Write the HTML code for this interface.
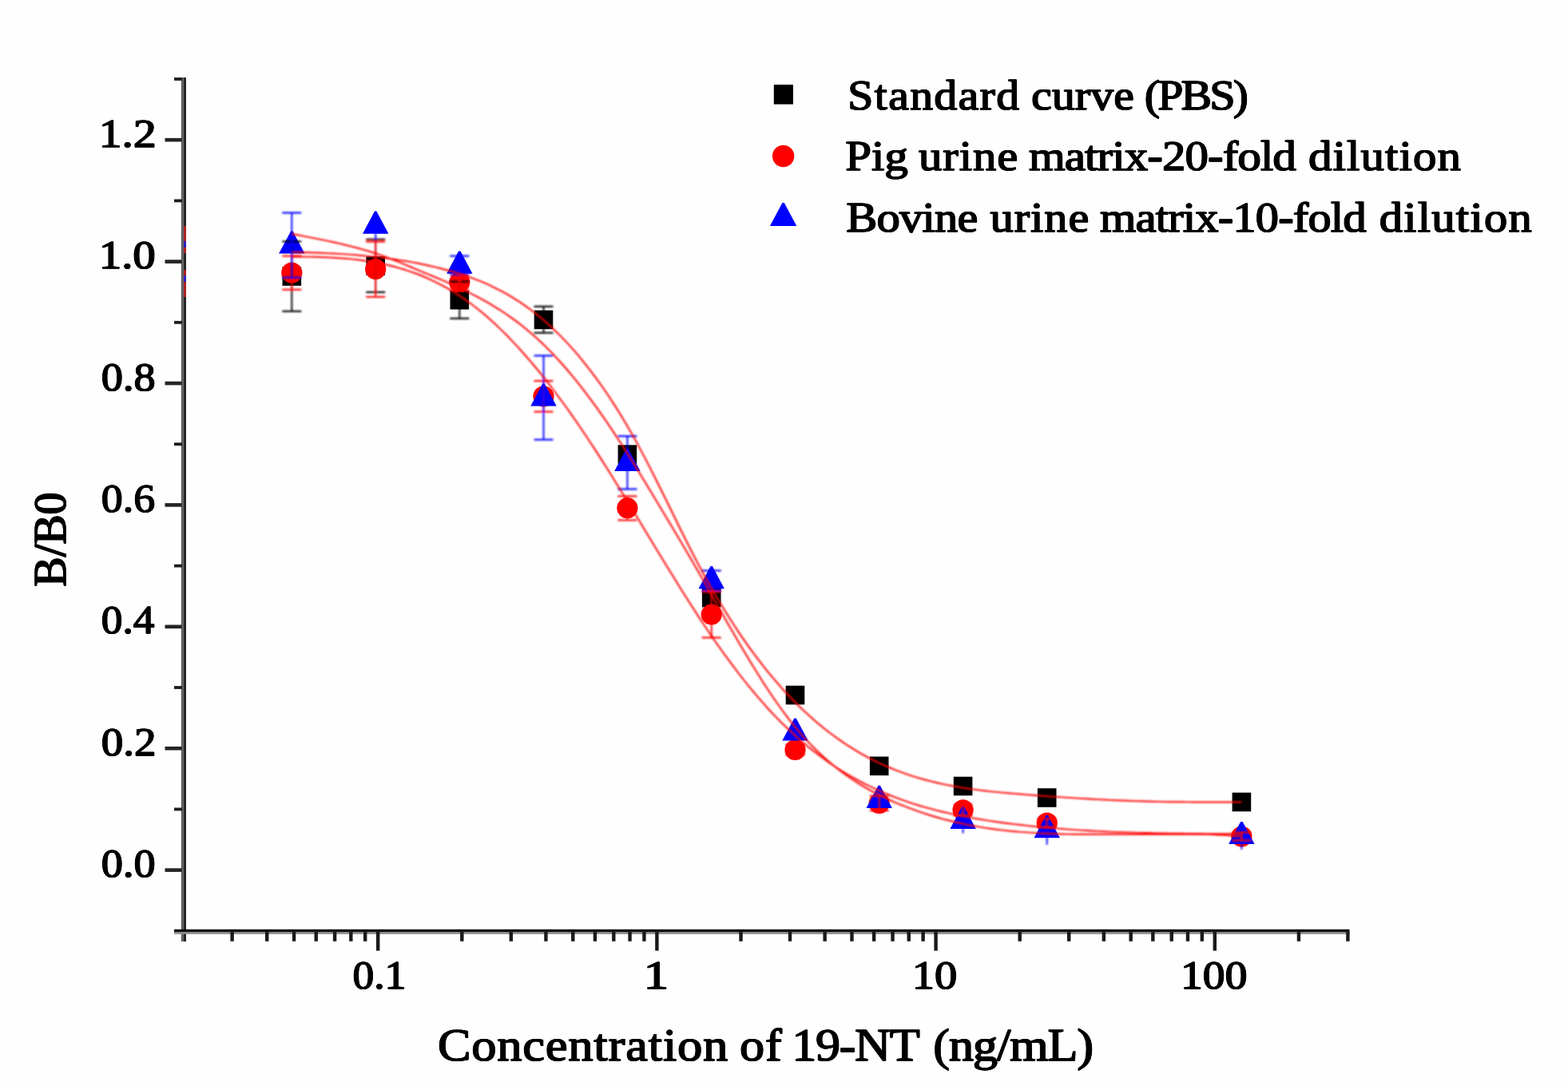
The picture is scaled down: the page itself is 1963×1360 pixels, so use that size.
<!DOCTYPE html>
<html><head><meta charset="utf-8"><title>Standard curve</title>
<style>
html,body{margin:0;padding:0;background:#fefefe;}
svg{display:block;filter:blur(0.45px)}
text{font-family:"Liberation Serif",serif;font-weight:normal;fill:#000;stroke:#000;stroke-width:1;stroke-linejoin:round;}
</style></head>
<body>
<svg width="1963" height="1360" viewBox="0 0 1963 1360">
<defs><filter id="soft" x="-5%" y="-5%" width="110%" height="110%" filterUnits="objectBoundingBox"><feGaussianBlur stdDeviation="1.0"/></filter></defs>
<rect x="0" y="0" width="1963" height="1360" fill="#fefefe"/>
<g id="axes">
<rect x="226.8" y="97" width="3" height="1082" fill="#5e5e5e"/>
<rect x="229.8" y="97" width="3.2" height="1082" fill="#262626"/>
<rect x="218" y="1163.8" width="1471.4" height="3.2" fill="#0a0a0a"/>
<rect x="218" y="1167" width="1471.4" height="2.8" fill="#8c8c8c"/>
<rect x="206.5" y="1087.30" width="21" height="4.6" fill="#242424"/>
<rect x="218" y="1011.50" width="10" height="3.8" fill="#1c1c1c"/>
<rect x="206.5" y="934.90" width="21" height="4.6" fill="#242424"/>
<rect x="218" y="859.10" width="10" height="3.8" fill="#1c1c1c"/>
<rect x="206.5" y="782.50" width="21" height="4.6" fill="#242424"/>
<rect x="218" y="706.70" width="10" height="3.8" fill="#1c1c1c"/>
<rect x="206.5" y="630.10" width="21" height="4.6" fill="#242424"/>
<rect x="218" y="554.30" width="10" height="3.8" fill="#1c1c1c"/>
<rect x="206.5" y="477.70" width="21" height="4.6" fill="#242424"/>
<rect x="218" y="401.90" width="10" height="3.8" fill="#1c1c1c"/>
<rect x="206.5" y="325.30" width="21" height="4.6" fill="#242424"/>
<rect x="218" y="249.50" width="10" height="3.8" fill="#1c1c1c"/>
<rect x="206.5" y="172.90" width="21" height="4.6" fill="#242424"/>
<rect x="218" y="97.10" width="10" height="3.8" fill="#1c1c1c"/>
<rect x="288.41" y="1166" width="4.4" height="12.8" fill="#1a1a1a"/>
<rect x="332.04" y="1166" width="4.4" height="12.8" fill="#1a1a1a"/>
<rect x="365.88" y="1166" width="4.4" height="12.8" fill="#1a1a1a"/>
<rect x="393.53" y="1166" width="4.4" height="12.8" fill="#1a1a1a"/>
<rect x="416.91" y="1166" width="4.4" height="12.8" fill="#1a1a1a"/>
<rect x="437.16" y="1166" width="4.4" height="12.8" fill="#1a1a1a"/>
<rect x="455.02" y="1166" width="4.4" height="12.8" fill="#1a1a1a"/>
<rect x="471.00" y="1166" width="4.4" height="24.6" fill="#1a1a1a"/>
<rect x="576.12" y="1166" width="4.4" height="12.8" fill="#1a1a1a"/>
<rect x="637.61" y="1166" width="4.4" height="12.8" fill="#1a1a1a"/>
<rect x="681.24" y="1166" width="4.4" height="12.8" fill="#1a1a1a"/>
<rect x="715.08" y="1166" width="4.4" height="12.8" fill="#1a1a1a"/>
<rect x="742.73" y="1166" width="4.4" height="12.8" fill="#1a1a1a"/>
<rect x="766.11" y="1166" width="4.4" height="12.8" fill="#1a1a1a"/>
<rect x="786.36" y="1166" width="4.4" height="12.8" fill="#1a1a1a"/>
<rect x="804.22" y="1166" width="4.4" height="12.8" fill="#1a1a1a"/>
<rect x="820.20" y="1166" width="4.4" height="24.6" fill="#1a1a1a"/>
<rect x="925.32" y="1166" width="4.4" height="12.8" fill="#1a1a1a"/>
<rect x="986.81" y="1166" width="4.4" height="12.8" fill="#1a1a1a"/>
<rect x="1030.44" y="1166" width="4.4" height="12.8" fill="#1a1a1a"/>
<rect x="1064.28" y="1166" width="4.4" height="12.8" fill="#1a1a1a"/>
<rect x="1091.93" y="1166" width="4.4" height="12.8" fill="#1a1a1a"/>
<rect x="1115.31" y="1166" width="4.4" height="12.8" fill="#1a1a1a"/>
<rect x="1135.56" y="1166" width="4.4" height="12.8" fill="#1a1a1a"/>
<rect x="1153.42" y="1166" width="4.4" height="12.8" fill="#1a1a1a"/>
<rect x="1169.40" y="1166" width="4.4" height="24.6" fill="#1a1a1a"/>
<rect x="1274.52" y="1166" width="4.4" height="12.8" fill="#1a1a1a"/>
<rect x="1336.01" y="1166" width="4.4" height="12.8" fill="#1a1a1a"/>
<rect x="1379.64" y="1166" width="4.4" height="12.8" fill="#1a1a1a"/>
<rect x="1413.48" y="1166" width="4.4" height="12.8" fill="#1a1a1a"/>
<rect x="1441.13" y="1166" width="4.4" height="12.8" fill="#1a1a1a"/>
<rect x="1464.51" y="1166" width="4.4" height="12.8" fill="#1a1a1a"/>
<rect x="1484.76" y="1166" width="4.4" height="12.8" fill="#1a1a1a"/>
<rect x="1502.62" y="1166" width="4.4" height="12.8" fill="#1a1a1a"/>
<rect x="1518.60" y="1166" width="4.4" height="24.6" fill="#1a1a1a"/>
<rect x="1623.72" y="1166" width="4.4" height="12.8" fill="#1a1a1a"/>
<rect x="1685.21" y="1166" width="4.4" height="12.8" fill="#1a1a1a"/>
</g>
<g id="ticklabels">
</g>
<g id="titles">
</g>
<g id="legend">
<rect x="968.8" y="106.0" width="24.1" height="24.6" fill="#000"/>
<circle cx="980.60" cy="195.50" r="13.7" fill="#f00"/>
<polygon points="979.40,253.90 981.80,253.90 997.30,282.90 963.90,282.90" fill="#00f"/>
</g>
<g id="markers">
<rect x="353.50" y="334.20" width="23.6" height="23.6" fill="#000"/>
<rect x="458.40" y="321.20" width="23.6" height="23.6" fill="#000"/>
<rect x="563.50" y="363.90" width="23.6" height="23.6" fill="#000"/>
<rect x="668.70" y="388.60" width="23.6" height="23.6" fill="#000"/>
<rect x="773.60" y="557.30" width="23.6" height="23.6" fill="#000"/>
<rect x="878.90" y="736.80" width="23.6" height="23.6" fill="#000"/>
<rect x="983.70" y="858.70" width="23.6" height="23.6" fill="#000"/>
<rect x="1088.90" y="947.50" width="23.6" height="23.6" fill="#000"/>
<rect x="1193.80" y="972.70" width="23.6" height="23.6" fill="#000"/>
<rect x="1298.90" y="987.20" width="23.6" height="23.6" fill="#000"/>
<rect x="1542.60" y="992.60" width="23.6" height="23.6" fill="#000"/>
<circle cx="365.30" cy="341.60" r="13.1" fill="#f00"/>
<circle cx="470.20" cy="337.00" r="13.1" fill="#f00"/>
<circle cx="575.30" cy="353.50" r="13.1" fill="#f00"/>
<circle cx="680.50" cy="496.30" r="13.1" fill="#f00"/>
<circle cx="785.40" cy="636.20" r="13.1" fill="#f00"/>
<circle cx="890.70" cy="769.50" r="13.1" fill="#f00"/>
<circle cx="995.50" cy="939.00" r="13.1" fill="#f00"/>
<circle cx="1100.70" cy="1005.90" r="13.1" fill="#f00"/>
<circle cx="1205.60" cy="1014.30" r="13.1" fill="#f00"/>
<circle cx="1310.70" cy="1030.60" r="13.1" fill="#f00"/>
<circle cx="1554.40" cy="1047.60" r="13.1" fill="#f00"/>
<polygon points="364.10,289.40 366.50,289.40 381.50,317.60 349.10,317.60" fill="#00f"/>
<polygon points="469.00,264.60 471.40,264.60 486.40,292.80 454.00,292.80" fill="#00f"/>
<polygon points="574.10,314.50 576.50,314.50 591.50,342.70 559.10,342.70" fill="#00f"/>
<polygon points="679.30,480.40 681.70,480.40 696.70,508.60 664.30,508.60" fill="#00f"/>
<polygon points="784.20,561.80 786.60,561.80 801.60,590.00 769.20,590.00" fill="#00f"/>
<polygon points="889.50,709.10 891.90,709.10 906.90,737.30 874.50,737.30" fill="#00f"/>
<polygon points="994.30,899.40 996.70,899.40 1011.70,927.60 979.30,927.60" fill="#00f"/>
<polygon points="1099.50,983.80 1101.90,983.80 1116.90,1012.00 1084.50,1012.00" fill="#00f"/>
<polygon points="1204.40,1009.80 1206.80,1009.80 1221.80,1038.00 1189.40,1038.00" fill="#00f"/>
<polygon points="1309.50,1021.00 1311.90,1021.00 1326.90,1049.20 1294.50,1049.20" fill="#00f"/>
<polygon points="1553.20,1028.90 1555.60,1028.90 1570.60,1057.10 1538.20,1057.10" fill="#00f"/>
</g>
<g id="errbars" fill="none" filter="url(#soft)">
<g stroke="#000"><line x1="365.30" y1="302.40" x2="365.30" y2="389.80" stroke-width="1.9"/><line x1="353.30" y1="302.40" x2="377.30" y2="302.40" stroke-width="2.1"/><line x1="353.30" y1="389.80" x2="377.30" y2="389.80" stroke-width="2.1"/></g>
<g stroke="#000"><line x1="470.20" y1="299.80" x2="470.20" y2="365.90" stroke-width="1.9"/><line x1="458.20" y1="299.80" x2="482.20" y2="299.80" stroke-width="2.1"/><line x1="458.20" y1="365.90" x2="482.20" y2="365.90" stroke-width="2.1"/></g>
<g stroke="#000"><line x1="575.30" y1="352.60" x2="575.30" y2="398.80" stroke-width="1.9"/><line x1="563.30" y1="352.60" x2="587.30" y2="352.60" stroke-width="2.1"/><line x1="563.30" y1="398.80" x2="587.30" y2="398.80" stroke-width="2.1"/></g>
<g stroke="#000"><line x1="680.50" y1="383.80" x2="680.50" y2="416.80" stroke-width="1.9"/><line x1="668.50" y1="383.80" x2="692.50" y2="383.80" stroke-width="2.1"/><line x1="668.50" y1="416.80" x2="692.50" y2="416.80" stroke-width="2.1"/></g>
<g stroke="#f00"><line x1="365.30" y1="320.60" x2="365.30" y2="362.70" stroke-width="1.9"/><line x1="353.30" y1="320.60" x2="377.30" y2="320.60" stroke-width="2.1"/><line x1="353.30" y1="362.70" x2="377.30" y2="362.70" stroke-width="2.1"/></g>
<g stroke="#f00"><line x1="470.20" y1="302.60" x2="470.20" y2="371.80" stroke-width="1.9"/><line x1="458.20" y1="302.60" x2="482.20" y2="302.60" stroke-width="2.1"/><line x1="458.20" y1="371.80" x2="482.20" y2="371.80" stroke-width="2.1"/></g>
<g stroke="#f00"><line x1="575.30" y1="344.10" x2="575.30" y2="363.00" stroke-width="1.9"/><line x1="563.30" y1="344.10" x2="587.30" y2="344.10" stroke-width="2.1"/><line x1="563.30" y1="363.00" x2="587.30" y2="363.00" stroke-width="2.1"/></g>
<g stroke="#f00"><line x1="680.50" y1="477.00" x2="680.50" y2="515.60" stroke-width="1.9"/><line x1="668.50" y1="477.00" x2="692.50" y2="477.00" stroke-width="2.1"/><line x1="668.50" y1="515.60" x2="692.50" y2="515.60" stroke-width="2.1"/></g>
<g stroke="#f00"><line x1="785.40" y1="621.40" x2="785.40" y2="651.40" stroke-width="1.9"/><line x1="773.40" y1="621.40" x2="797.40" y2="621.40" stroke-width="2.1"/><line x1="773.40" y1="651.40" x2="797.40" y2="651.40" stroke-width="2.1"/></g>
<g stroke="#f00"><line x1="890.70" y1="741.20" x2="890.70" y2="798.50" stroke-width="1.9"/><line x1="878.70" y1="741.20" x2="902.70" y2="741.20" stroke-width="2.1"/><line x1="878.70" y1="798.50" x2="902.70" y2="798.50" stroke-width="2.1"/></g>
<g stroke="#f00"><line x1="995.50" y1="932.50" x2="995.50" y2="945.50" stroke-width="1.9"/><line x1="983.50" y1="932.50" x2="1007.50" y2="932.50" stroke-width="2.1"/><line x1="983.50" y1="945.50" x2="1007.50" y2="945.50" stroke-width="2.1"/></g>
<g stroke="#f00"><line x1="1100.70" y1="996.80" x2="1100.70" y2="1015.00" stroke-width="1.9"/><line x1="1088.70" y1="996.80" x2="1112.70" y2="996.80" stroke-width="2.1"/><line x1="1088.70" y1="1015.00" x2="1112.70" y2="1015.00" stroke-width="2.1"/></g>
<g stroke="#f00"><line x1="1205.60" y1="1007.60" x2="1205.60" y2="1021.00" stroke-width="1.9"/><line x1="1193.60" y1="1007.60" x2="1217.60" y2="1007.60" stroke-width="2.1"/><line x1="1193.60" y1="1021.00" x2="1217.60" y2="1021.00" stroke-width="2.1"/></g>
<g stroke="#f00"><line x1="1310.70" y1="1025.30" x2="1310.70" y2="1035.90" stroke-width="1.9"/><line x1="1298.70" y1="1025.30" x2="1322.70" y2="1025.30" stroke-width="2.1"/><line x1="1298.70" y1="1035.90" x2="1322.70" y2="1035.90" stroke-width="2.1"/></g>
<g stroke="#f00"><line x1="1554.40" y1="1042.50" x2="1554.40" y2="1052.50" stroke-width="1.9"/><line x1="1542.40" y1="1042.50" x2="1566.40" y2="1042.50" stroke-width="2.1"/><line x1="1542.40" y1="1052.50" x2="1566.40" y2="1052.50" stroke-width="2.1"/></g>
<g stroke="#00f"><line x1="365.30" y1="266.50" x2="365.30" y2="347.60" stroke-width="1.9"/><line x1="353.30" y1="266.50" x2="377.30" y2="266.50" stroke-width="2.1"/><line x1="353.30" y1="347.60" x2="377.30" y2="347.60" stroke-width="2.1"/></g>
<g stroke="#00f"><line x1="575.30" y1="320.60" x2="575.30" y2="343.60" stroke-width="1.9"/><line x1="563.30" y1="320.60" x2="587.30" y2="320.60" stroke-width="2.1"/><line x1="563.30" y1="343.60" x2="587.30" y2="343.60" stroke-width="2.1"/></g>
<g stroke="#00f"><line x1="680.50" y1="445.40" x2="680.50" y2="550.60" stroke-width="1.9"/><line x1="668.50" y1="445.40" x2="692.50" y2="445.40" stroke-width="2.1"/><line x1="668.50" y1="550.60" x2="692.50" y2="550.60" stroke-width="2.1"/></g>
<g stroke="#00f"><line x1="785.40" y1="546.20" x2="785.40" y2="612.50" stroke-width="1.9"/><line x1="773.40" y1="546.20" x2="797.40" y2="546.20" stroke-width="2.1"/><line x1="773.40" y1="612.50" x2="797.40" y2="612.50" stroke-width="2.1"/></g>
<g stroke="#00f"><line x1="890.70" y1="714.60" x2="890.70" y2="738.80" stroke-width="1.9"/><line x1="878.70" y1="714.60" x2="902.70" y2="714.60" stroke-width="2.1"/><line x1="878.70" y1="738.80" x2="902.70" y2="738.80" stroke-width="2.1"/></g>
<g stroke="#00f"><line x1="470.20" y1="292.20" x2="470.20" y2="300.50" stroke-width="1.9"/></g>
<g stroke="#00f"><line x1="1205.60" y1="1037.40" x2="1205.60" y2="1043.50" stroke-width="1.9"/></g>
<g stroke="#00f"><line x1="1310.70" y1="1048.60" x2="1310.70" y2="1057.80" stroke-width="1.9"/></g>
<g stroke="#00f"><line x1="1554.40" y1="1056.50" x2="1554.40" y2="1063.90" stroke-width="1.9"/></g>
</g>
<g id="fits" fill="none" stroke="#f00" stroke-width="1.95" stroke-linejoin="round" filter="url(#soft)">
<polyline points="365.0,292.7 372.5,294.2 380.0,295.6 387.4,297.1 394.9,298.6 402.4,300.1 409.9,301.6 417.4,303.2 424.8,304.9 432.3,306.7 439.8,308.6 447.3,310.5 454.8,312.6 462.2,314.8 469.7,317.2 477.2,319.7 484.7,322.4 492.2,325.3 499.6,328.2 507.1,331.3 514.6,334.5 522.1,337.6 529.6,340.8 537.1,343.9 544.5,347.0 552.0,350.2 559.5,353.4 567.0,356.8 574.5,360.2 581.9,363.8 589.4,367.5 596.9,371.3 604.4,375.4 611.9,379.6 619.3,384.1 626.8,388.8 634.3,393.8 641.8,399.1 649.3,404.6 656.7,410.5 664.2,416.7 671.7,423.3 679.2,430.3 686.7,437.6 694.1,445.3 701.6,453.5 709.1,462.0 716.6,470.9 724.1,480.1 731.5,489.7 739.0,499.6 746.5,509.8 754.0,520.4 761.5,531.2 768.9,542.4 776.4,553.8 783.9,565.4 791.4,577.3 798.9,589.4 806.3,601.7 813.8,614.0 821.3,626.5 828.8,638.9 836.3,651.4 843.8,664.0 851.2,676.6 858.7,689.2 866.2,702.1 873.7,715.0 881.2,728.1 888.6,741.2 896.1,754.4 903.6,767.6 911.1,780.7 918.6,793.6 926.0,806.5 933.5,819.1 941.0,831.5 948.5,843.6 956.0,855.4 963.4,866.8 970.9,877.8 978.4,888.3 985.9,898.4 993.4,907.9 1000.8,916.8 1008.3,925.3 1015.8,933.2 1023.3,940.7 1030.8,947.7 1038.2,954.3 1045.7,960.5 1053.2,966.3 1060.7,971.7 1068.2,976.8 1075.6,981.6 1083.1,986.1 1090.6,990.3 1098.1,994.2 1105.6,998.0 1113.1,1001.5 1120.5,1004.8 1128.0,1007.9 1135.5,1010.9 1143.0,1013.7 1150.5,1016.4 1157.9,1018.9 1165.4,1021.3 1172.9,1023.5 1180.4,1025.6 1187.9,1027.5 1195.3,1029.3 1202.8,1031.0 1210.3,1032.6 1217.8,1034.0 1225.3,1035.4 1232.7,1036.6 1240.2,1037.7 1247.7,1038.7 1255.2,1039.6 1262.7,1040.5 1270.1,1041.2 1277.6,1041.9 1285.1,1042.4 1292.6,1042.9 1300.1,1043.4 1307.5,1043.7 1315.0,1044.0 1322.5,1044.3 1330.0,1044.5 1337.5,1044.6 1344.9,1044.7 1352.4,1044.8 1359.9,1044.8 1367.4,1044.8 1374.9,1044.8 1382.3,1044.8 1389.8,1044.8 1397.3,1044.8 1404.8,1044.8 1412.3,1044.8 1419.8,1044.8 1427.2,1044.8 1434.7,1044.8 1442.2,1044.8 1449.7,1044.8 1457.2,1044.8 1464.6,1044.8 1472.1,1044.8 1479.6,1044.8 1487.1,1044.8 1494.6,1044.8 1502.0,1044.8 1509.5,1044.8 1517.0,1045.1 1524.5,1045.5 1532.0,1045.9 1539.4,1046.4 1546.9,1047.0 1554.4,1047.6"/>
<polyline points="365.0,315.6 372.5,315.8 380.0,316.0 387.4,316.2 394.9,316.5 402.4,316.8 409.9,317.1 417.4,317.5 424.8,317.9 432.3,318.4 439.8,318.9 447.3,319.5 454.8,320.2 462.2,320.9 469.7,321.7 477.2,322.6 484.7,323.5 492.2,324.5 499.6,325.6 507.1,326.8 514.6,328.1 522.1,329.5 529.6,331.0 537.1,332.7 544.5,334.4 552.0,336.2 559.5,338.2 567.0,340.3 574.5,342.5 581.9,345.0 589.4,347.6 596.9,350.4 604.4,353.4 611.9,356.7 619.3,360.3 626.8,364.1 634.3,368.2 641.8,372.6 649.3,377.3 656.7,382.4 664.2,387.8 671.7,393.6 679.2,399.7 686.7,406.3 694.1,413.2 701.6,420.6 709.1,428.4 716.6,436.6 724.1,445.2 731.5,454.3 739.0,463.8 746.5,473.8 754.0,484.2 761.5,495.2 768.9,506.6 776.4,518.5 783.9,531.0 791.4,543.9 798.9,557.4 806.3,571.4 813.8,585.9 821.3,600.7 828.8,615.8 836.3,631.0 843.8,646.3 851.2,661.5 858.7,676.5 866.2,691.2 873.7,705.6 881.2,719.5 888.6,733.0 896.1,746.0 903.6,758.5 911.1,770.6 918.6,782.3 926.0,793.6 933.5,804.4 941.0,814.9 948.5,824.9 956.0,834.6 963.4,843.8 970.9,852.7 978.4,861.3 985.9,869.5 993.4,877.3 1000.8,884.8 1008.3,891.9 1015.8,898.7 1023.3,905.2 1030.8,911.4 1038.2,917.3 1045.7,922.8 1053.2,928.1 1060.7,933.2 1068.2,937.9 1075.6,942.4 1083.1,946.6 1090.6,950.6 1098.1,954.3 1105.6,957.8 1113.1,961.0 1120.5,964.1 1128.0,966.9 1135.5,969.6 1143.0,972.1 1150.5,974.4 1157.9,976.5 1165.4,978.4 1172.9,980.2 1180.4,981.9 1187.9,983.4 1195.3,984.8 1202.8,986.1 1210.3,987.3 1217.8,988.4 1225.3,989.4 1232.7,990.3 1240.2,991.1 1247.7,991.9 1255.2,992.6 1262.7,993.3 1270.1,993.9 1277.6,994.5 1285.1,995.1 1292.6,995.7 1300.1,996.3 1307.5,996.9 1315.0,997.4 1322.5,997.9 1330.0,998.4 1337.5,998.9 1344.9,999.4 1352.4,999.9 1359.9,1000.3 1367.4,1000.7 1374.9,1001.1 1382.3,1001.5 1389.8,1001.9 1397.3,1002.2 1404.8,1002.5 1412.3,1002.8 1419.8,1003.1 1427.2,1003.3 1434.7,1003.5 1442.2,1003.7 1449.7,1003.9 1457.2,1004.1 1464.6,1004.2 1472.1,1004.3 1479.6,1004.3 1487.1,1004.4 1494.6,1004.4 1502.0,1004.4 1509.5,1004.4 1517.0,1004.4 1524.5,1004.4 1532.0,1004.4 1539.4,1004.4 1546.9,1004.4 1554.4,1004.4"/>
<polyline points="365.0,321.3 372.5,321.4 380.0,321.5 387.4,321.6 394.9,321.8 402.4,322.0 409.9,322.3 417.4,322.7 424.8,323.2 432.3,323.7 439.8,324.4 447.3,325.3 454.8,326.2 462.2,327.3 469.7,328.6 477.2,330.1 484.7,331.7 492.2,333.5 499.6,335.6 507.1,337.8 514.6,340.3 522.1,343.0 529.6,346.0 537.1,349.3 544.5,352.8 552.0,356.6 559.5,360.7 567.0,365.1 574.5,369.8 581.9,374.9 589.4,380.3 596.9,386.0 604.4,392.1 611.9,398.6 619.3,405.3 626.8,412.4 634.3,419.8 641.8,427.6 649.3,435.6 656.7,444.0 664.2,452.6 671.7,461.5 679.2,470.7 686.7,480.2 694.1,490.0 701.6,500.0 709.1,510.3 716.6,520.9 724.1,531.7 731.5,542.7 739.0,554.0 746.5,565.4 754.0,577.1 761.5,588.9 768.9,600.9 776.4,612.9 783.9,625.2 791.4,637.4 798.9,649.8 806.3,662.2 813.8,674.5 821.3,686.9 828.8,699.2 836.3,711.5 843.8,723.6 851.2,735.7 858.7,747.6 866.2,759.3 873.7,770.9 881.2,782.2 888.6,793.3 896.1,804.2 903.6,814.8 911.1,825.1 918.6,835.2 926.0,845.0 933.5,854.5 941.0,863.7 948.5,872.6 956.0,881.2 963.4,889.5 970.9,897.4 978.4,905.0 985.9,912.3 993.4,919.3 1000.8,926.0 1008.3,932.4 1015.8,938.5 1023.3,944.3 1030.8,949.8 1038.2,955.1 1045.7,960.2 1053.2,965.0 1060.7,969.5 1068.2,973.8 1075.6,977.9 1083.1,981.8 1090.6,985.5 1098.1,989.0 1105.6,992.3 1113.1,995.5 1120.5,998.4 1128.0,1001.2 1135.5,1003.8 1143.0,1006.3 1150.5,1008.7 1157.9,1010.9 1165.4,1012.9 1172.9,1014.9 1180.4,1016.7 1187.9,1018.4 1195.3,1020.1 1202.8,1021.6 1210.3,1023.0 1217.8,1024.4 1225.3,1025.7 1232.7,1026.9 1240.2,1028.1 1247.7,1029.2 1255.2,1030.2 1262.7,1031.2 1270.1,1032.1 1277.6,1033.0 1285.1,1033.9 1292.6,1034.7 1300.1,1035.4 1307.5,1036.1 1315.0,1036.8 1322.5,1037.4 1330.0,1038.0 1337.5,1038.6 1344.9,1039.1 1352.4,1039.6 1359.9,1040.0 1367.4,1040.5 1374.9,1040.9 1382.3,1041.2 1389.8,1041.6 1397.3,1041.9 1404.8,1042.1 1412.3,1042.4 1419.8,1042.6 1427.2,1042.9 1434.7,1043.0 1442.2,1043.2 1449.7,1043.4 1457.2,1043.5 1464.6,1043.6 1472.1,1043.7 1479.6,1043.8 1487.1,1043.9 1494.6,1044.0 1502.0,1044.0 1509.5,1044.1 1517.0,1044.1 1524.5,1044.2 1532.0,1044.2 1539.4,1044.2 1546.9,1044.3 1554.4,1044.3"/>
</g>
<g id="txt"><text transform="scale(1.1170,1)" x="110.83 136.58 149.45" y="183.80" font-size="51.5">1.2</text><text transform="scale(1.1004,1)" x="112.56 138.31 151.18" y="336.20" font-size="51.5">1.0</text><text transform="scale(1.0543,1)" x="120.23 145.98 158.86" y="488.60" font-size="51.5">0.8</text><text transform="scale(1.0473,1)" x="121.05 146.80 159.67" y="641.00" font-size="51.5">0.6</text><text transform="scale(1.0352,1)" x="122.48 148.23 161.10" y="793.40" font-size="51.5">0.4</text><text transform="scale(1.0696,1)" x="118.50 144.25 157.12" y="945.80" font-size="51.5">0.2</text><text transform="scale(1.0543,1)" x="120.23 145.98 158.86" y="1098.20" font-size="51.5">0.0</text><text transform="scale(1.0393,1)" x="424.78 450.53 463.41" y="1238.40" font-size="51.5">0.1</text><text transform="scale(1.2233,1)" x="658.58" y="1238.40" font-size="51.5">1</text><text transform="scale(1.0997,1)" x="1038.22 1063.97" y="1238.40" font-size="51.5">10</text><text transform="scale(1.0814,1)" x="1366.73 1392.48 1418.23" y="1238.40" font-size="51.5">100</text><text transform="scale(1.0723,1)" x="511.02 550.56 580.41 610.26 636.86 663.45 693.31 710.27 730.44 757.04 774.00 790.97 820.82 850.67 863.60 893.42 913.56 924.48 952.21 979.94 997.98 1038.60 1072.75 1089.48 1107.81 1135.81 1163.82 1178.94 1223.06 1257.49" y="1328.30" font-size="58">Concentration of 19-NT (ng/mL)</text><text transform="scale(1.1074,1)" x="958.38 988.59 1004.34 1028.71 1056.00 1083.30 1107.67 1126.28 1153.58 1165.96 1189.20 1215.36 1232.83 1258.99 1282.23 1293.88 1308.77 1335.27 1367.53 1394.03" y="137.30" font-size="52">Standard curve (PBS)</text><text transform="scale(1.1309,1)" x="935.83 964.77 979.23 1005.25 1016.86 1043.64 1061.74 1076.97 1103.75 1127.62 1138.91 1178.58 1200.89 1214.56 1231.10 1244.77 1270.00 1286.54 1311.76 1336.99 1353.53 1370.07 1395.30 1408.97 1434.19 1448.49 1475.48 1490.91 1506.35 1533.33 1548.77 1564.20 1591.19" y="213.30" font-size="52">Pig urine matrix-20-fold dilution</text><text transform="scale(1.1216,1)" x="944.51 978.58 1003.95 1029.33 1043.16 1068.54 1090.99 1105.21 1132.08 1150.27 1165.59 1192.47 1216.42 1227.74 1267.51 1289.91 1303.69 1320.33 1334.10 1359.42 1376.07 1401.39 1426.71 1443.36 1460.00 1485.32 1499.09 1524.42 1539.55 1566.74 1582.39 1598.04 1625.23 1640.88 1656.52 1683.72" y="290.10" font-size="52">Bovine urine matrix-10-fold dilution</text></g>
<use href="#txt" x="0.3"/><use href="#txt" x="-0.3"/>
<g id="ytitle"><text transform="rotate(-90) scale(0.9648,1)" x="-761.44 -722.76 -706.64 -667.96" y="82.00" font-size="58">B/B0</text></g>
<use href="#ytitle" y="0.5"/><use href="#ytitle" y="-0.5"/>
<g id="stray">
<rect x="230" y="283" width="3" height="34" fill="#b02020"/>
<rect x="230" y="302" width="3" height="8" fill="#3020c0"/>
<rect x="230" y="338" width="3" height="34" fill="#b02020"/>
<rect x="230" y="345" width="3" height="8" fill="#3020c0"/>
</g>
</svg>
</body></html>
